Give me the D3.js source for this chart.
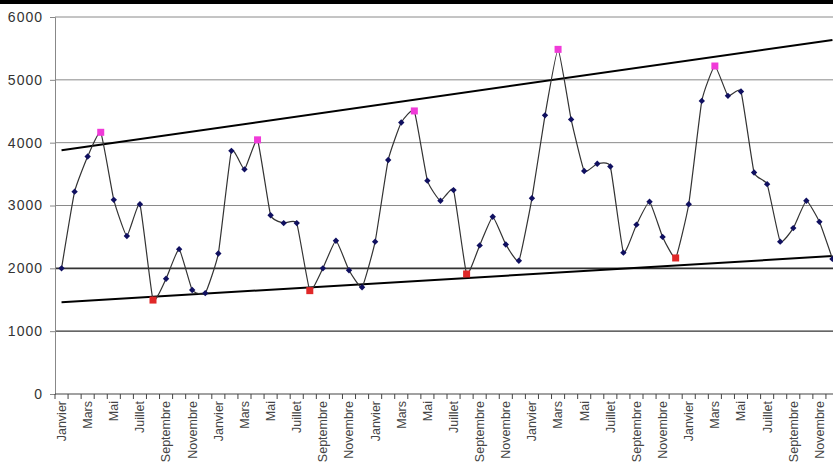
<!DOCTYPE html>
<html><head><meta charset="utf-8">
<script src="https://cdn.jsdelivr.net/npm/d3@7"></script>
<style>
html,body{margin:0;padding:0;background:#fff;overflow:hidden}
svg{display:block}
</style></head>
<body>
<script>
const monthNames = ["Janvier","Février","Mars","Avril","Mai","Juin","Juillet","Août","Septembre","Octobre","Novembre","Décembre"];
const yearCount = 5;
const values = [
  2000,3220,3780,4165,3090,2515,3020,1495,1835,2305,1655,1605,
  2235,3870,3575,4045,2845,2720,2720,1645,2000,2440,1970,1700,
  2425,3725,4320,4505,3395,3075,3245,1910,2365,2820,2380,2120,
  3115,4435,5485,4370,3550,3665,3620,2250,2695,3060,2500,2165,
  3020,4665,5220,4745,4815,3525,3340,2425,2640,3075,2740,2150
];
const highIdx = [3,15,27,38,50];
const lowIdx = [7,19,31,47];
const upperTrend = [{i:0,v:3880},{i:59,v:5635}];
const lowerTrend = [{i:0,v:1460},{i:59,v:2195}];
const yTicks = [0,1000,2000,3000,4000,5000,6000];

const categories = [];
for (let y=0;y<yearCount;y++) monthNames.forEach(m=>categories.push(m));

const W=833,H=463;
const svg=d3.select("body").append("svg").attr("width",W).attr("height",H);
svg.append("rect").attr("x",0).attr("y",0).attr("width",W).attr("height",4).attr("fill","#000");

const idx=d3.range(categories.length);
const x=d3.scaleBand().domain(idx).range([55,839]).padding(0);
const cx=i=>x(i)+x.bandwidth()/2;
const y=d3.scaleLinear().domain([0,6000]).range([394,17]);

// gridlines
svg.append("g").selectAll("line").data(yTicks.filter(t=>t>0)).join("line")
  .attr("x1",55).attr("x2",W).attr("y1",d=>y(d)).attr("y2",d=>y(d))
  .attr("stroke",d=>(d===2000||d===1000)?"#333":"#8a8a8a")
  .attr("stroke-width",d=>(d===2000)?1.6:(d===1000?1.2:1));

// y axis
const ya=svg.append("g").attr("transform","translate(55,0)")
  .call(d3.axisLeft(y).tickValues(yTicks).tickSize(5).tickFormat(d3.format("d")));
ya.select(".domain").attr("stroke","#888");
ya.selectAll(".tick line").attr("stroke","#888");
ya.selectAll("text").attr("font-family","Liberation Sans, Arial, sans-serif")
  .attr("font-size",14).attr("fill","#333").attr("letter-spacing","1px").attr("x",-12);

// x axis
const xa=svg.append("g").attr("transform","translate(0,394)");
xa.append("line").attr("x1",55).attr("x2",W).attr("y1",0).attr("y2",0).attr("stroke","#444").attr("stroke-width",1.2);
xa.selectAll("line.tk").data(d3.range(categories.length+1)).join("line").attr("class","tk")
  .attr("x1",i=>55+i*x.bandwidth()).attr("x2",i=>55+i*x.bandwidth())
  .attr("y1",0).attr("y2",5).attr("stroke","#444");
xa.selectAll("text").data(idx.filter(i=>i%2===0)).join("text")
  .attr("transform",i=>`translate(${cx(i)},7) rotate(-90)`)
  .attr("text-anchor","end").attr("dy","0.35em")
  .attr("font-family","Liberation Sans, Arial, sans-serif").attr("font-size",12.5)
  .attr("fill","#444").text(i=>categories[i]);

// trend lines
const tl=d3.line().x(d=>cx(d.i)).y(d=>y(d.v));
[upperTrend,lowerTrend].forEach(t=>{
  svg.append("path").attr("d",tl(t)).attr("fill","none").attr("stroke","#000").attr("stroke-width",2);
});

// series line
const line=d3.line().x((d,i)=>cx(i)).y(d=>y(d)).curve(d3.curveCardinal.tension(0.6));
svg.append("path").attr("d",line(values)).attr("fill","none").attr("stroke","#333").attr("stroke-width",1.2);

// markers
const normal=idx.filter(i=>!highIdx.includes(i)&&!lowIdx.includes(i));
svg.append("g").selectAll("path").data(normal).join("path")
  .attr("d",d3.symbol(d3.symbolDiamond2,26)())
  .attr("transform",i=>`translate(${cx(i)},${y(values[i])})`)
  .attr("fill","#101060");
svg.append("g").selectAll("rect").data(highIdx).join("rect")
  .attr("x",i=>cx(i)-3.5).attr("y",i=>y(values[i])-3.5).attr("width",7).attr("height",7)
  .attr("fill","#f03ad8");
svg.append("g").selectAll("rect").data(lowIdx).join("rect")
  .attr("x",i=>cx(i)-3.5).attr("y",i=>y(values[i])-3.5).attr("width",7).attr("height",7)
  .attr("fill","#e02828");
</script>
</body></html>
